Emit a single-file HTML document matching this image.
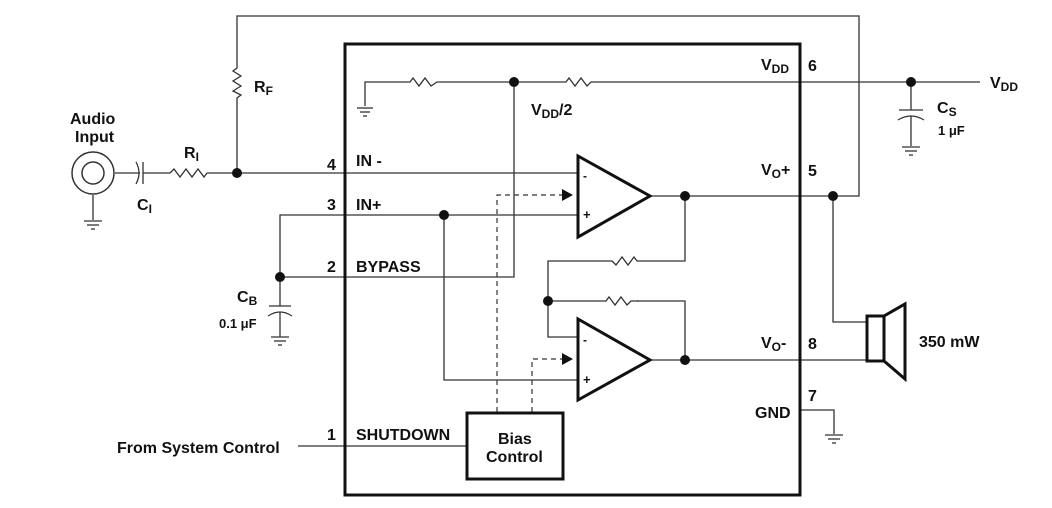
<!DOCTYPE html>
<html><head><style>
body{margin:0;background:#fff}
svg{display:block}
text{font-family:"Liberation Sans",Arial,sans-serif;font-weight:bold;font-size:16px;fill:#111}
.s{font-size:12px}
.m{font-size:12px}
.p{font-size:13px}
</style></head><body>
<svg width="1052" height="508" viewBox="0 0 1052 508">
<g stroke="#333" stroke-width="1.3" fill="none">
<polyline points="237,65 237,16 859,16 859,196 685,196"/>
<polyline points="237,100 237,173"/>
<path d="M237,65 l0,3 l-4,3 l8,5 l-8,5 l8,5 l-8,5 l8,4 l-4,3 l0,2"/>
<line x1="115" y1="173" x2="140" y2="173"/>
<path d="M136,162 q6,11 0,22" />
<line x1="143" y1="162" x2="143" y2="184"/>
<line x1="143" y1="173" x2="170" y2="173"/>
<path d="M170,173 l4,-4 l6,8 l6,-8 l6,8 l6,-8 l6,8 l3,-4"/>
<line x1="207" y1="173" x2="577" y2="173"/>
<circle cx="93" cy="173" r="21" stroke-width="1.5"/>
<circle cx="93" cy="173" r="11" stroke-width="1.5"/>
<line x1="93" y1="195" x2="93" y2="220"/>
<line x1="84" y1="221" x2="102" y2="221"/><line x1="87" y1="225" x2="99" y2="225"/><line x1="91" y1="229" x2="95" y2="229"/>
<polyline points="577,215 280,215 280,277 514,277 514,82"/>
<line x1="280" y1="277" x2="280" y2="306"/>
<line x1="269" y1="306" x2="291" y2="306"/>
<path d="M268,316 q12,-8 24,0"/>
<line x1="280" y1="312" x2="280" y2="337"/>
<line x1="271" y1="337" x2="289" y2="337"/><line x1="274" y1="341" x2="286" y2="341"/><line x1="278" y1="345" x2="282" y2="345"/>
<polyline points="444,215 444,380 577,380"/>
<polyline points="365,106 365,82 400,82"/>
<line x1="357" y1="108" x2="373" y2="108"/><line x1="360" y1="112" x2="370" y2="112"/><line x1="363" y1="116" x2="367" y2="116"/>
<path d="M400,82 l10,0 l3,-4 l6,8 l6,-8 l6,8 l6,-4 l16,0"/>
<line x1="453" y1="82" x2="560" y2="82"/>
<path d="M560,82 l6,0 l3,-4 l6,8 l6,-8 l6,8 l4,-4 l10,0"/>
<line x1="601" y1="82" x2="980" y2="82"/>
<line x1="911" y1="82" x2="911" y2="110"/>
<line x1="899" y1="110" x2="923" y2="110"/>
<path d="M898,120 q13,-8 26,0"/>
<line x1="911" y1="116" x2="911" y2="146"/>
<line x1="902" y1="147" x2="920" y2="147"/><line x1="905" y1="151" x2="917" y2="151"/><line x1="909" y1="155" x2="913" y2="155"/>
<line x1="650" y1="196" x2="685" y2="196"/>
<polyline points="685,196 685,261 645,261"/>
<path d="M645,261 l-8,0 l-3,-4 l-6,8 l-6,-8 l-6,8 l-4,-4 l-12,0"/>
<polyline points="600,261 548,261 548,337 577,337"/>
<path d="M548,301 l58,0 l3,-4 l6,8 l6,-8 l6,8 l4,-4 l8,0"/>
<polyline points="637,301 685,301 685,360"/>
<line x1="650" y1="360" x2="866" y2="360"/>
<polyline points="833,196 833,322 866,322"/>
<line x1="298" y1="446" x2="467" y2="446"/>
<polyline points="800,410 834,410 834,434"/>
<line x1="825" y1="435" x2="843" y2="435"/><line x1="828" y1="439" x2="840" y2="439"/><line x1="832" y1="443" x2="836" y2="443"/>
</g>
<g stroke="#333" stroke-width="1.2" fill="none" stroke-dasharray="5,4">
<polyline points="497,412 497,195 562,195"/>
<polyline points="532,412 532,359 562,359"/>
</g>
<g fill="#111">
<path d="M562,189 l11,6 l-11,6z"/>
<path d="M562,353 l11,6 l-11,6z"/>
<circle cx="237" cy="173" r="5"/>
<circle cx="280" cy="277" r="5"/>
<circle cx="444" cy="215" r="5"/>
<circle cx="514" cy="82" r="5"/>
<circle cx="911" cy="82" r="5"/>
<circle cx="685" cy="196" r="5"/>
<circle cx="685" cy="360" r="5"/>
<circle cx="548" cy="301" r="5"/>
<circle cx="833" cy="196" r="5"/>
</g>
<g stroke="#111" stroke-width="3" fill="#fff">
<rect x="345" y="44" width="455" height="451" fill="none"/>
<path d="M578,156 L650,196 L578,237 Z"/>
<path d="M578,319 L650,360 L578,400 Z"/>
<rect x="467" y="413" width="96" height="66" fill="none"/>
<rect x="867" y="316" width="17" height="45"/>
<path d="M884,316 L905,304 L905,379 L884,361" fill="none"/>
</g>
<g>
<text x="70" y="124">Audio</text><text x="75" y="142">Input</text>
<text x="184" y="158">R<tspan class="s" dy="3">I</tspan></text>
<text x="137" y="210">C<tspan class="s" dy="3">I</tspan></text>
<text x="254" y="92">R<tspan class="s" dy="3">F</tspan></text>
<text x="237" y="302">C<tspan class="s" dy="3">B</tspan></text>
<text class="p" x="219" y="328">0.1 μF</text>
<text x="937" y="113">C<tspan class="s" dy="3">S</tspan></text>
<text class="p" x="938" y="135">1 μF</text>
<text x="990" y="88">V<tspan class="m" dy="3">DD</tspan></text>
<text x="531" y="115">V<tspan class="m" dy="3">DD</tspan><tspan dy="-3">/2</tspan></text>
<text x="761" y="70">V<tspan class="m" dy="3">DD</tspan></text>
<text x="761" y="175">V<tspan class="m" dy="3">O</tspan><tspan dy="-3">+</tspan></text>
<text x="761" y="348">V<tspan class="m" dy="3">O</tspan><tspan dy="-3">-</tspan></text>
<text x="755" y="418">GND</text>
<text x="808" y="71">6</text><text x="808" y="176">5</text><text x="808" y="349">8</text><text x="808" y="401">7</text>
<text x="327" y="170">4</text><text x="327" y="210">3</text><text x="327" y="272">2</text><text x="327" y="440">1</text>
<text x="356" y="166">IN -</text>
<text x="356" y="210">IN+</text>
<text x="356" y="272">BYPASS</text>
<text x="356" y="440">SHUTDOWN</text>
<text x="117" y="453">From System Control</text>
<text x="498" y="444">Bias</text><text x="486" y="462">Control</text>
<text x="919" y="347">350 mW</text>
<text class="m" x="583" y="180">-</text><text class="p" x="583" y="219">+</text>
<text class="m" x="583" y="344">-</text><text class="p" x="583" y="384">+</text>
</g>
</svg>
</body></html>
